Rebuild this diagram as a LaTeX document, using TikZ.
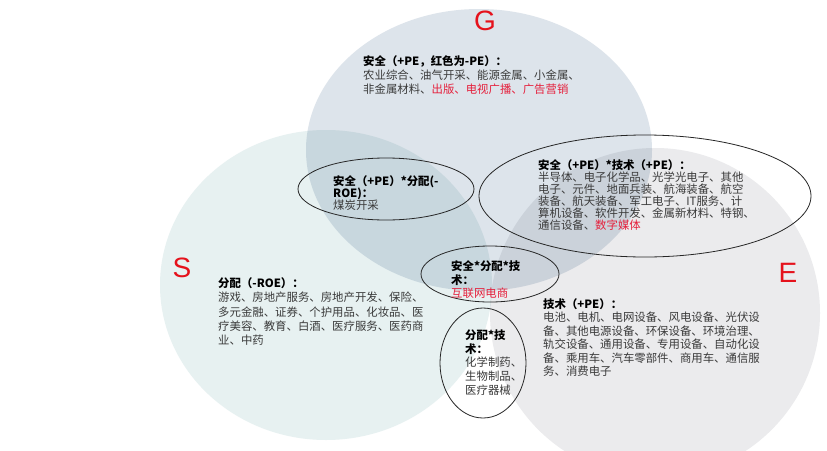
\documentclass[tikz,border=0pt]{standalone}
\usepackage{fontspec}
\usetikzlibrary{shapes.geometric}
\newfontfamily\cjk{Noto Sans CJK SC}
\newfontfamily\letterfont{Liberation Sans}
\definecolor{gfill}{HTML}{DDE4EB}
\definecolor{sfill}{HTML}{E7F1F1}
\definecolor{efill}{HTML}{EBEBED}
\definecolor{lred}{HTML}{E5121C}
\definecolor{tred}{HTML}{E5203C}
\definecolor{tgray}{HTML}{3A3A3A}
\tikzset{
  bigletter/.style={text=lred, font=\letterfont\fontsize{28}{28}\selectfont, inner sep=0pt},
  ringbox/.style={draw=black!85, line width=0.8pt, ellipse, inner sep=0pt},
  txtblock/.style={anchor=north west, align=left, inner sep=0pt, text=tgray},
}
\newcommand{\hd}[1]{{\bfseries\color{black}#1}}
\newcommand{\rd}[1]{{\color{tred}#1}}
\begin{document}
\begin{tikzpicture}[x=1pt,y=-1pt]
\useasboundingbox[fill=white] (0,0) rectangle (827,450);
\begin{scope}[blend mode=multiply]
  \fill[sfill] (326,285) ellipse [x radius=166pt, y radius=155pt];
  \fill[gfill] (479,150) ellipse [x radius=173pt, y radius=141pt];
  \fill[efill] (655,313) ellipse [x radius=165pt, y radius=165pt];
\end{scope}
% outlined ellipses
\node[ringbox, minimum width=176pt, minimum height=62pt] (e1) at (386,189) {};
\node[ringbox, minimum width=332pt, minimum height=122pt] (e2) at (645,196) {};
\node[ringbox, minimum width=138pt, minimum height=56pt] (e3) at (490,274) {};
\node[ringbox, minimum width=86pt, minimum height=110pt] (e4) at (483,363) {};
% letters
\node[bigletter] (lg) at (485,21) {G};
\node[bigletter] (ls) at (182,268) {S};
\node[bigletter] (le) at (788,273) {E};
% text blocks
\node[txtblock, font=\cjk\fontsize{11.4}{14}\selectfont] (tg) at (363,55.5) {%
\hd{安全（+PE，红色为-PE）：}\\
农业综合、油气开采、能源金属、小金属、\\
非金属材料、\rd{出版、电视广播、广告营销}};
\node[txtblock, font=\cjk\fontsize{11.4}{12}\selectfont] (t1) at (333,175.5) {%
\hd{安全（+PE）*分配(-}\\
\hd{ROE)：}\\
煤炭开采};
\node[txtblock, font=\cjk\fontsize{11.4}{12}\selectfont] (t2) at (538,159.5) {%
\hd{安全（+PE）*技术（+PE）：}\\
半导体、电子化学品、光学光电子、其他\\
电子、元件、地面兵装、航海装备、航空\\
装备、航天装备、军工电子、IT服务、计\\
算机设备、软件开发、金属新材料、特钢、\\
通信设备、\rd{数字媒体}};
\node[txtblock, font=\cjk\fontsize{11.4}{14.25}\selectfont] (ts) at (218,277.5) {%
\hd{分配（-ROE）：}\\
游戏、房地产服务、房地产开发、保险、\\
多元金融、证券、个护用品、化妆品、医\\
疗美容、教育、白酒、医疗服务、医药商\\
业、中药};
\node[txtblock, font=\cjk\fontsize{11.4}{13.5}\selectfont] (t3) at (451,260.5) {%
\hd{安全*分配*技}\\
\hd{术：}\\
\rd{互联网电商}};
\node[txtblock, font=\cjk\fontsize{11.4}{13.4}\selectfont] (te) at (543,298.5) {%
\hd{技术（+PE）：}\\
电池、电机、电网设备、风电设备、光伏设\\
备、其他电源设备、环保设备、环境治理、\\
轨交设备、通用设备、专用设备、自动化设\\
备、乘用车、汽车零部件、商用车、通信服\\
务、消费电子};
\node[txtblock, font=\cjk\fontsize{11.4}{13.75}\selectfont] (t4) at (465,329.5) {%
\hd{分配*技}\\
\hd{术：}\\
化学制药、\\
生物制品、\\
医疗器械};
\end{tikzpicture}
\end{document}
